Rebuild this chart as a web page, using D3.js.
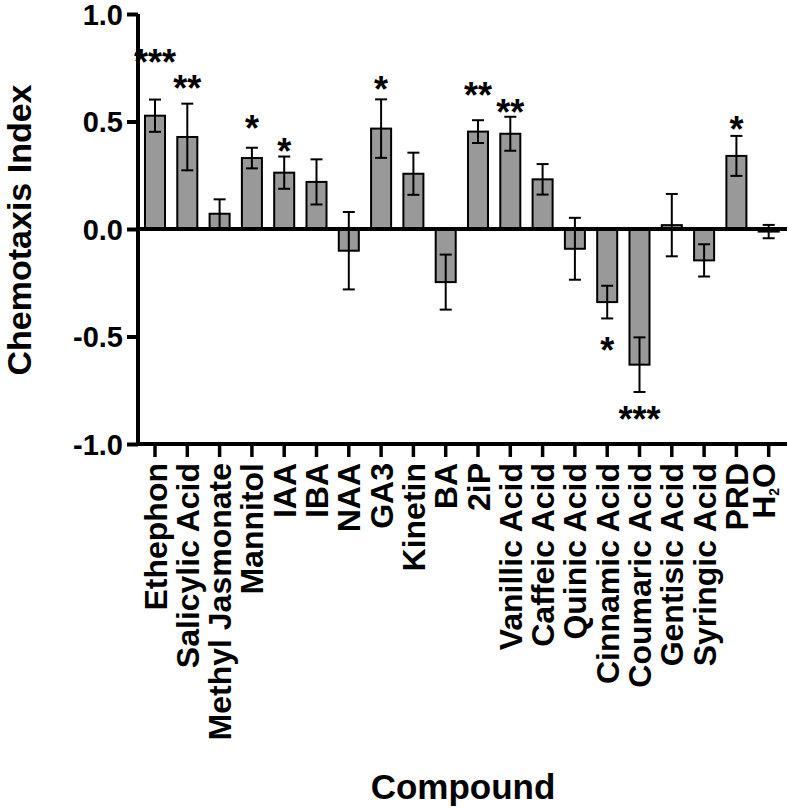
<!DOCTYPE html>
<html>
<head>
<meta charset="utf-8">
<script src="https://cdn.jsdelivr.net/npm/d3@7"></script>
<style>
  html, body { margin: 0; padding: 0; background: #fff; }
  text { font-family: "Liberation Sans", Arial, sans-serif; font-weight: bold; fill: #000; }
</style>
</head>
<body>
<svg id="chart" width="789" height="809"></svg>
<script>
const compounds = ["Ethephon", "Salicylic Acid", "Methyl Jasmonate", "Mannitol", "IAA", "IBA", "NAA", "GA3", "Kinetin", "BA", "2iP", "Vanillic Acid", "Caffeic Acid", "Quinic Acid", "Cinnamic Acid", "Coumaric Acid", "Gentisic Acid", "Syringic Acid", "PRD", "H2O"];
const meanCI = [0.527, 0.428, 0.071, 0.330, 0.262, 0.219, -0.101, 0.467, 0.257, -0.247, 0.453, 0.443, 0.231, -0.092, -0.340, -0.631, 0.018, -0.146, 0.340, -0.012];
const semCI  = [0.075, 0.155, 0.067, 0.048, 0.075, 0.105, 0.180, 0.136, 0.098, 0.128, 0.053, 0.079, 0.071, 0.144, 0.076, 0.127, 0.145, 0.075, 0.093, 0.031];
const sigMarks = ["***", "**", "", "*", "*", "", "", "*", "", "", "**", "**", "", "", "*", "***", "", "", "*", ""];
const sigLevel = [0.810, 0.693, null, 0.507, 0.400, null, null, 0.684, null, null, 0.656, 0.581, null, null, -0.526, -0.851, null, null, 0.502, null];
const yTicks = [-1.0, -0.5, 0.0, 0.5, 1.0];

const svg = d3.select("#chart");

const y = d3.scaleLinear().domain([-1, 1]).range([444, 14]);
const x = d3.scaleBand().domain(compounds).range([138.85, 784.85]).paddingInner(0.38).paddingOuter(0.19);

const axisX0 = 138;

// bars
svg.append("g").selectAll("rect").data(compounds).join("rect")
  .attr("x", d => x(d))
  .attr("width", x.bandwidth())
  .attr("y", (d, i) => y(Math.max(0, meanCI[i])))
  .attr("height", (d, i) => Math.abs(y(meanCI[i]) - y(0)))
  .attr("fill", "#999999")
  .attr("stroke", "#000")
  .attr("stroke-width", 2);

// error bars
const eb = svg.append("g").attr("stroke", "#000").attr("stroke-width", 2);
compounds.forEach((c, i) => {
  const cx = x(c) + x.bandwidth() / 2;
  const hi = y(meanCI[i] + semCI[i]);
  const lo = y(meanCI[i] - semCI[i]);
  eb.append("line").attr("x1", cx).attr("x2", cx).attr("y1", hi).attr("y2", lo);
  eb.append("line").attr("x1", cx - 6).attr("x2", cx + 6).attr("y1", hi).attr("y2", hi);
  eb.append("line").attr("x1", cx - 6).attr("x2", cx + 6).attr("y1", lo).attr("y2", lo);
});

// zero line
svg.append("line")
  .attr("x1", axisX0).attr("x2", 787)
  .attr("y1", y(0)).attr("y2", y(0))
  .attr("stroke", "#000").attr("stroke-width", 4);

// significance stars
svg.append("g").selectAll("text").data(compounds).join("text")
  .filter((d, i) => sigMarks[i] !== "")
  .attr("x", d => x(d) + x.bandwidth() / 2)
  .attr("y", d => y(sigLevel[compounds.indexOf(d)]))
  .attr("dy", "0.57em")
  .attr("text-anchor", "middle")
  .style("font-size", "36px")
  .text(d => sigMarks[compounds.indexOf(d)]);

// y axis
const yAxis = d3.axisLeft(y).tickValues(yTicks).tickSizeOuter(0).tickSize(11).tickPadding(4);
const gy = svg.append("g").attr("transform", `translate(${axisX0},0)`).call(yAxis);
gy.select(".domain").attr("stroke", "#000").attr("stroke-width", 4).attr("d", `M0,${y(1)}V${y(-1) + 2}`);
gy.selectAll(".tick line").attr("stroke", "#000").attr("stroke-width", 4);
gy.selectAll(".tick text")
  .style("font-size", "29px").style("font-family", "'Liberation Sans', Arial, sans-serif").style("font-weight", "bold")
  .attr("fill", "#000").attr("dy", "0.36em")
  .text(d => d < 0 ? "-" + d3.format(".1f")(-d) : d3.format(".1f")(d));

// x axis
const xAxis = d3.axisBottom(x).tickSizeOuter(0).tickSize(13).tickFormat("");
const gx = svg.append("g").attr("transform", `translate(0,${y(-1)})`).call(xAxis);
gx.select(".domain").attr("stroke", "#000").attr("stroke-width", 4).attr("d", `M${axisX0 - 2},0H787`);
gx.selectAll(".tick line").attr("stroke", "#000").attr("stroke-width", 3.5);

// x tick labels (rotated)
const labels = svg.append("g");
compounds.forEach(c => {
  const cx = x(c) + x.bandwidth() / 2;
  const t = labels.append("text")
    .attr("text-anchor", "end")
    .attr("dy", "0.36em")
    .style("font-size", "32px");
  if (c === "H2O") {
    t.attr("transform", `translate(${cx - 5},463) rotate(-90)`);
    t.append("tspan").text("H");
    t.append("tspan").text("2").style("font-size", "14px").attr("dy", "4");
    t.append("tspan").text("O").attr("dy", "-4");
  } else {
    t.attr("transform", `translate(${cx},463) rotate(-90)`);
    t.text(c);
  }
});

// axis titles
svg.append("text")
  .attr("transform", `translate(31,230) rotate(-90)`)
  .attr("text-anchor", "middle")
  .style("font-size", "34px")
  .text("Chemotaxis Index");

svg.append("text")
  .attr("x", 463).attr("y", 799)
  .attr("text-anchor", "middle")
  .style("font-size", "35px")
  .text("Compound");
</script>
</body>
</html>
